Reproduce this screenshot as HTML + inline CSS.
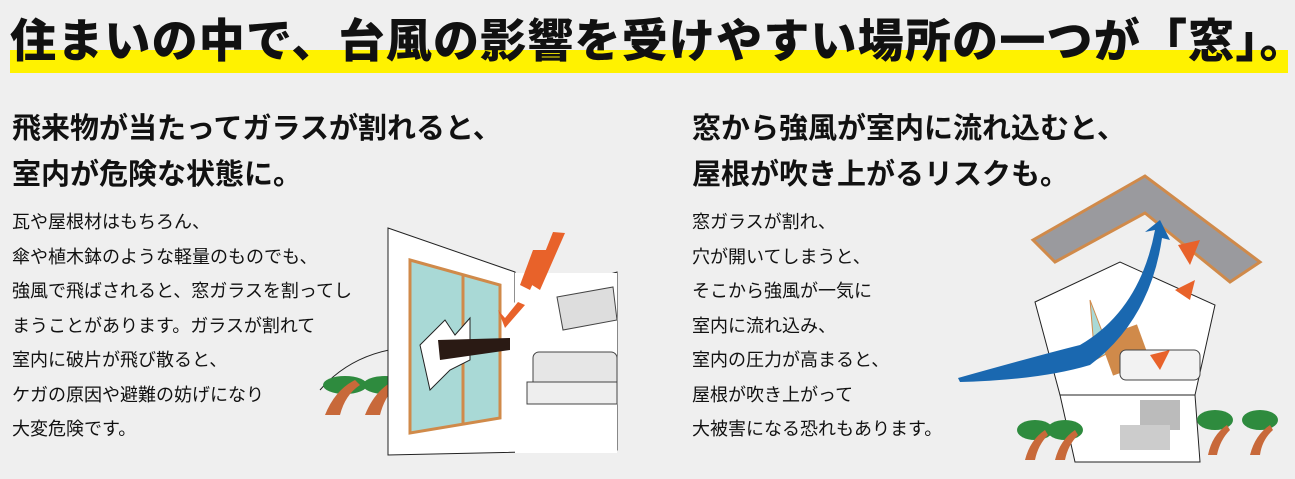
<!DOCTYPE html>
<html><head><meta charset="utf-8"><style>
html,body{margin:0;padding:0;}
body{width:1295px;height:479px;background:#efefef;position:relative;overflow:hidden;font-family:"Liberation Sans","Noto Sans CJK JP",sans-serif;color:#111;}
.bar{position:absolute;left:10px;top:50px;width:1278px;height:23px;background:#fff200;}
.title{position:absolute;left:10px;top:11px;font-size:46px;font-weight:900;letter-spacing:1.2px;white-space:nowrap;line-height:60px;}
.h{position:absolute;font-size:29px;font-weight:bold;line-height:46px;white-space:nowrap;}
.b{position:absolute;font-size:18px;line-height:34.5px;white-space:nowrap;}
svg{position:absolute;left:0;top:0;}
</style></head><body>
<div class="bar"></div>
<div class="title">住まいの中で、台風の影響を受けやすい場所の一つが「窓」。</div>
<div class="h" style="left:12px;top:106px;">飛来物が当たってガラスが割れると、<br>室内が危険な状態に。</div>
<div class="h" style="left:692px;top:106px;">窓から強風が室内に流れ込むと、<br>屋根が吹き上がるリスクも。</div>
<div class="b" style="left:12px;top:205px;">瓦や屋根材はもちろん、<br>傘や植木鉢のような軽量のものでも、<br>強風で飛ばされると、窓ガラスを割ってし<br>まうことがあります。ガラスが割れて<br>室内に破片が飛び散ると、<br>ケガの原因や避難の妨げになり<br>大変危険です。</div>
<div class="b" style="left:692px;top:205px;">窓ガラスが割れ、<br>穴が開いてしまうと、<br>そこから強風が一気に<br>室内に流れ込み、<br>室内の圧力が高まると、<br>屋根が吹き上がって<br>大被害になる恐れもあります。</div>
<svg width="1295" height="479" viewBox="0 0 1295 479">
<path d="M320 390 Q350 355 400 348" fill="none" stroke="#222" stroke-width="1"/>
<g fill="#2e8b3e"><ellipse cx="345" cy="385" rx="22" ry="9"/><ellipse cx="385" cy="385" rx="22" ry="9"/></g>
<path d="M325 415 Q335 390 355 380 L360 385 Q345 395 340 415Z" fill="#c8693a"/>
<path d="M365 415 Q375 390 395 380 L398 385 Q385 395 380 415Z" fill="#c8693a"/>
<path d="M388 228 L515 272 L515 302 L617 272 L617 450 L388 455Z" fill="#fff" stroke="#222"/>
<rect x="515" y="273" width="102" height="180" fill="#fff"/>
<path d="M410 260 L500 285 L500 418 L410 433Z" fill="#a9d9d6" stroke="#d08a4a" stroke-width="3"/>
<line x1="463" y1="275" x2="463" y2="425" stroke="#d08a4a" stroke-width="3"/>
<polygon points="420,345 445,320 455,335 470,318 470,360 450,370 430,390" fill="#fff" stroke="#222"/>
<polygon points="438,340 510,338 510,350 440,360" fill="#2a1a14"/>
<rect x="533" y="352" width="84" height="52" rx="6" fill="#e6e6e6" stroke="#444"/>
<rect x="527" y="382" width="90" height="22" fill="#eee" stroke="#444"/>
<polygon points="557,297 613,287 617,320 563,330" fill="#ddd" stroke="#444"/>
<path d="M530 290 L548 250 L533 250 L520 285Z" fill="#e8622a"/>
<path d="M540 290 L565 233 L553 232 L532 285Z" fill="#e8622a"/>
<path d="M505 328 L525 305 L518 302 L505 318 L498 310Z" fill="#e8622a"/>
<polygon points="1033,240 1145,176 1260,262 1230,282 1145,213 1055,262" fill="#9a9a9e" stroke="#d08a4a" stroke-width="3"/>
<polygon points="1035,302 1120,262 1215,305 1195,395 1060,395" fill="#fff" stroke="#222"/>
<polygon points="1060,395 1195,395 1200,462 1075,462" fill="#fff" stroke="#222"/>
<rect x="1140" y="400" width="40" height="30" fill="#bbb"/>
<rect x="1120" y="425" width="50" height="25" fill="#ccc"/>
<path d="M1090 300 L1110 352 L1095 360 Z" fill="#a9d9d6" stroke="#d08a4a"/>
<rect x="1105" y="330" width="40" height="40" fill="#d08a4a" transform="rotate(-20 1125 350)"/>
<rect x="1120" y="350" width="80" height="30" rx="6" fill="#f2f2f2" stroke="#444"/>
<path d="M958 378 Q1040 355 1080 345 Q1140 310 1155 230 L1145 232 L1160 220 L1170 240 L1162 238 Q1150 320 1090 365 Q1040 380 960 382Z" fill="#1a68b0"/>
<path d="M1178 245 L1200 240 L1190 265Z M1175 290 L1195 280 L1190 300Z M1150 355 L1170 350 L1160 370Z" fill="#e8622a"/>
<g fill="#2e8b3e"><ellipse cx="1035" cy="430" rx="18" ry="10"/><ellipse cx="1065" cy="430" rx="18" ry="10"/><ellipse cx="1215" cy="420" rx="18" ry="10"/><ellipse cx="1260" cy="420" rx="18" ry="10"/></g>
<g fill="#c8693a"><path d="M1025 460 Q1030 440 1045 430 L1048 435 Q1038 445 1035 460Z"/><path d="M1055 460 Q1060 440 1075 430 L1078 435 Q1068 445 1065 460Z"/><path d="M1208 455 Q1212 435 1227 425 L1230 430 Q1220 440 1217 455Z"/><path d="M1250 455 Q1255 435 1270 425 L1273 430 Q1262 440 1260 455Z"/></g>
</svg>
</body></html>
